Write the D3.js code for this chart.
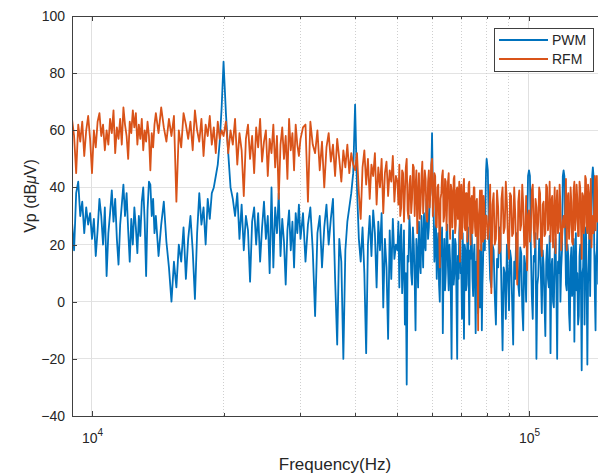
<!DOCTYPE html>
<html>
<head>
<meta charset="utf-8">
<script src="https://cdn.jsdelivr.net/npm/d3@7"></script>
<style>
  body { margin: 0; background: #fff; }
  svg { display: block; font-family: "Liberation Sans", Arial, sans-serif; }
</style>
</head>
<body>
<div id="chart"></div>
<script>
// frequency bins (kHz), shared by both traces
const freqKHz = [
  9.0, 9.1, 9.2, 9.3, 9.4, 9.5, 9.6, 9.7, 9.8, 9.9,
  10.0, 10.1, 10.2, 10.3, 10.4, 10.5, 10.6, 10.7, 10.8, 10.9,
  11.0, 11.1, 11.2, 11.3, 11.4, 11.5, 11.6, 11.7, 11.8, 11.9,
  12.0, 12.1, 12.2, 12.3, 12.4, 12.5, 12.6, 12.7, 12.8, 12.9,
  13.0, 13.1, 13.2, 13.3, 13.4, 13.5, 13.6, 13.7, 13.8, 13.9,
  14.0, 14.2, 14.4, 14.6, 14.8, 15.0, 15.2, 15.4, 15.6, 15.8,
  16.0, 16.2, 16.4, 16.6, 16.8, 17.0, 17.2, 17.4, 17.6, 17.8,
  18.0, 18.2, 18.4, 18.6, 18.8, 19.0, 19.2, 19.4, 19.6, 19.8,
  20, 20.25, 20.5, 20.75, 21, 21.25, 21.5, 21.75, 22, 22.25,
  22.5, 22.75, 23, 23.25, 23.5, 23.75, 24, 24.25, 24.5, 24.75,
  25, 25.25, 25.5, 25.75, 26, 26.25, 26.5, 26.75, 27, 27.25,
  27.5, 27.75, 28, 28.25, 28.5, 28.75, 29, 29.25, 29.5, 29.75,
  30, 30.4, 30.8, 31.2, 31.6, 32, 32.4, 32.8, 33.2, 33.6,
  34, 34.4, 34.8, 35.2, 35.6, 36, 36.4, 36.8, 37.2, 37.6,
  38, 38.4, 38.8, 39.2, 39.6,
  40, 40.4, 40.8, 41.2, 41.6, 42, 42.4, 42.8, 43.2, 43.6,
  44, 44.4, 44.8, 45.2, 45.6, 46, 46.4, 46.8, 47.2, 47.6,
  48, 48.4, 48.8, 49.2, 49.6,
  50, 50.25, 50.5, 50.75, 51, 51.25, 51.5, 51.75, 52, 52.25,
  52.5, 52.75, 53, 53.25, 53.5, 53.75, 54, 54.25, 54.5, 54.75,
  55, 55.25, 55.5, 55.75, 56, 56.25, 56.5, 56.75, 57, 57.25,
  57.5, 57.75, 58, 58.25, 58.5, 58.75, 59, 59.25, 59.5, 59.75,
  60, 60.25, 60.5, 60.75, 61, 61.25, 61.5, 61.75, 62, 62.25,
  62.5, 62.75, 63, 63.25, 63.5, 63.75, 64, 64.25, 64.5, 64.75,
  65, 65.25, 65.5, 65.75, 66, 66.25, 66.5, 66.75, 67, 67.25,
  67.5, 67.75, 68, 68.25, 68.5, 68.75, 69, 69.25, 69.5, 69.75,
  70, 70.25, 70.5, 70.75, 71, 71.25, 71.5, 71.75, 72, 72.25,
  72.5, 72.75, 73, 73.25, 73.5, 73.75, 74, 74.25, 74.5, 74.75,
  75, 75.25, 75.5, 75.75, 76, 76.25, 76.5, 76.75, 77, 77.25,
  77.5, 77.75, 78, 78.25, 78.5, 78.75, 79, 79.25, 79.5, 79.75,
  80, 80.5, 81, 81.5, 82, 82.5, 83, 83.5, 84, 84.5,
  85, 85.5, 86, 86.5, 87, 87.5, 88, 88.5, 89, 89.5,
  90, 90.5, 91, 91.5, 92, 92.5, 93, 93.5, 94, 94.5,
  95, 95.5, 96, 96.5, 97, 97.5, 98, 98.5, 99, 99.5,
  100, 100.5, 101, 101.5, 102, 102.5, 103, 103.5, 104, 104.5,
  105, 105.5, 106, 106.5, 107, 107.5, 108, 108.5, 109, 109.5,
  110, 110.5, 111, 111.5, 112, 112.5, 113, 113.5, 114, 114.5,
  115, 115.5, 116, 116.5, 117, 117.5, 118, 118.5, 119, 119.5,
  120, 120.5, 121, 121.5, 122, 122.5, 123, 123.5, 124, 124.5,
  125, 125.5, 126, 126.5, 127, 127.5, 128, 128.5, 129, 129.5,
  130, 130.5, 131, 131.5, 132, 132.5, 133, 133.5, 134, 134.5,
  135, 135.5, 136, 136.5, 137, 137.5, 138, 138.5, 139, 139.5,
  140, 140.5, 141, 141.5, 142, 142.5, 143, 143.5, 144
];

// Vp in dBuV
const pwmValues = [
  28, 18, 38, 42, 30, 35, 24, 33, 27, 31,
  22, 29, 16, 25, 36, 30, 20, 33, 9, 24,
  31, 39, 28, 36, 22, 13, 27, 34, 41, 30,
  38, 25, 14, 29, 20, 33, 26, 17, 30, 23,
  35, 40, 28, 9, 32, 42, 41, 30, 36, 24,
  30, 16, 27, 35, 21, 12, 0, 14, 5, 20,
  14, 26, 8, 22, 30, 18, 1, 24, 38, 27,
  33, 20, 36, 29, 38, 40, 44, 48, 56, 68,
  84, 66, 52, 40, 36, 30, 38, 22, 34, 18,
  30, 25, 7, 28, 33, 20, 31, 14, 26, 35,
  22, 30, 10, 40, 12, 33, 24, 38, 16, 29,
  21, 6, 25, 32, 18, 28, 12, 31, 24, 34,
  22, 31, 14, 27, 33, 18, -5, 24, 30, 12,
  26, 34, 20, 29, 36, 8, -15, 22, 14, -20,
  18, 28, 33, 38, 45,
  69, 40, 22, 14, 26, 10, -18, 20, 30, 16,
  32, 24, 5, 28, 18, 31, -2, 22, 12, -13,
  25, 8, 29, 15, 20,
  18, 28, 5, 22, 27, 3, 12, 25, -8, 10,
  -29, 16, 14, 30, 24, 10, 6, 26, 20, 8,
  -10, 22, 16, 5, 28, 14, 10, 30, 22, 12,
  31, 20, 18, 36, 34, 22, 26, 35, 38, 44,
  59, 40, 32, 14, 20, 28, 8, 18, 24, 6,
  0, 20, 16, 26, -11, 12, 22, 4, 10, 24,
  27, 12, 4, 20, 14, 2, -20, 18, 25, 6,
  10, 22, 20, 0, -20, 16, 8, 24, 28, 10,
  12, -6, 24, 14, -13, 20, 18, 4, 6, 22,
  26, 10, -8, 18, 15, 28, 22, 8, 2, 16,
  20, 6, -11, 14, 10, 24, -4, 8, 18, -2,
  4, 20, -10, 6, 14, 26, 30, 18, 34, 46,
  50, 46, 22, 8, 5, 20, 18, 2, -8, 15,
  12, 26, 24, 4, -17, 12, 10, -6, 20, 10,
  -3, 18, 15, 0, -15, 14, 8, 24, 22, 6,
  2, 19, 17, -2, -10, 16, 12, 0, 25, 44,
  46, 44, 18, 2, -6, 16, 14, 24, -20, 6,
  9, 22, 21, 8, -4, 18, 13, 0, -12, 14,
  20, 8, 5, 23, -18, 12, 15, 0, -2, 17,
  22, 6, -20, 14, 10, 24, 0, 12, 18, 44,
  46, 44, 24, 6, 4, 20, 16, -4, -10, 14,
  19, 2, 6, 22, -14, 10, 24, 4, 10, -8,
  -5, 16, 20, 4, -24, 10, 12, 26, -8, 14,
  26, 8, -22, 6, 14, 28, 2, 20, 30, 44,
  47, 44, 20, 2, -10, 16, 18, 30, 6
];

const rfmValues = [
  64, 58, 45, 62, 56, 63, 51, 60, 65, 57,
  45, 60, 54, 63, 66, 58, 62, 53, 60, 55,
  64, 59, 67, 52, 61, 57, 64, 55, 68, 62,
  58, 50, 63, 59, 67, 61, 66, 55, 62, 57,
  64, 53, 60, 56, 63, 58, 46, 59, 54, 62,
  66, 59, 68, 61, 56, 64, 58, 65, 35, 60,
  54, 66, 62, 57, 63, 53, 67, 60, 56, 64,
  51, 62, 58, 65, 55, 61, 52, 63, 57, 60,
  58, 63, 52, 60, 55, 64, 48, 59, 53, 37,
  57, 62, 50, 58, 45, 61, 54, 64, 49, 56,
  60, 44, 57, 52, 62, 47, 58, 36, 55, 61,
  50, 58, 43, 64, 53, 59, 46, 62, 55, 51,
  57, 61, 62, 35, 63, 55, 52, 60, 46, 56,
  40, 54, 59, 49, 55, 44, 57, 50, 42, 53,
  47, 55, 45, 52, 48,
  46, 52, 38, 29, 47, 53, 41, 50, 36, 48,
  44, 52, 34, 47, 40, 50, 31, 45, 49, 37,
  46, 42, 51, 35, 44,
  42, 34, 48, 30, 33, 46, 45, 28, 38, 47,
  50, 32, 29, 41, 44, 31, 36, 48, 47, 30,
  40, 46, 24, 37, 45, 29, 34, 44, 49, 31,
  38, 46, 43, 30, 28, 42, 46, 33, 39, 48,
  50, 30, 35, 45, 44, 27, 26, 40, 41, 29,
  12, 36, 38, 44, 46, 28, 30, 43, 42, 25,
  36, 42, 45, 28, 22, 41, 39, 26, 33, 43,
  44, 24, 27, 39, 40, 29, 35, 42, 14, 37,
  41, 22, 30, 40, 43, 26, 25, 38, 38, 21,
  32, 41, 42, 27, 20, 36, 37, 24, 29, 40,
  40, 26, 23, 35, 36, 19, -10, 30, 33, 39,
  26, 18, 39, 28, 21, 37, 34, 22, 30, 30,
  30, 22, 28, 41, 3, 34, 38, 20, 22, 39,
  33, 17, 18, 36, 40, 24, 26, 42, 35, 21,
  15, 38, 37, 23, 24, 40, 31, 18, 6, 35,
  39, 25, 27, 41, 34, 19, 20, 37, 11, 30,
  32, 21, 25, 39, 41, 26, 19, 36, 33, 22,
  28, 40, 38, 20, 16, 34, 35, 23, 24, 41,
  40, 25, 29, 42, 21, 35, 37, 19, 30, 40,
  17, 33, 39, 24, 26, 41, 34, 18, 22, 28,
  30, 26, 31, 43, 18, 36, 38, 22, 27, 40,
  35, 21, 20, 39, 42, 25, 29, 41, 36, 23,
  23, 42, 40, 27, 15, 38, 37, 24, 28, 44,
  43, 26, 24, 41, 38, 22, 30, 43, 19, 28,
  30, 24, 33, 44, 25, 40, 44, 28, 31
];

const seriesNames = ['PWM', 'RFM'];
const seriesColors = ['#0072BD', '#D95319'];
const yTicks = [-40, -20, 0, 20, 40, 60, 80, 100];
const xMajorTicks = [1e4, 1e5];
const xMinorTicks = [2e4, 3e4, 4e4, 5e4, 6e4, 7e4, 8e4, 9e4];

function createSpectrumChart() {
    const margin = { top: 16, right: 0, bottom: 59, left: 72 };
    const width = 526.2;
    const height = 400;
    const axisColor = '#404040';
    const textColor = '#262626';

    const svg = d3.select('#chart').append('svg')
        .attr('width', 598)
        .attr('height', 475);

    const g = svg.append('g')
        .attr('transform', `translate(${margin.left},${margin.top})`);

    const x = d3.scaleLog().domain([9000, 144000]).range([0, width]);
    const y = d3.scaleLinear().domain([-40, 100]).range([height, 0]);

    // Grid
    g.append('g').selectAll('line')
        .data(yTicks.slice(1, -1))
        .join('line')
        .attr('x1', 0).attr('x2', width)
        .attr('y1', d => y(d)).attr('y2', d => y(d))
        .attr('stroke', '#e3e3e3')
        .attr('shape-rendering', 'crispEdges');

    g.append('g').selectAll('line')
        .data(xMajorTicks)
        .join('line')
        .attr('x1', d => x(d)).attr('x2', d => x(d))
        .attr('y1', 0).attr('y2', height)
        .attr('stroke', '#e0e0e0')
        .attr('shape-rendering', 'crispEdges');

    g.append('g').selectAll('line')
        .data(xMinorTicks)
        .join('line')
        .attr('x1', d => x(d)).attr('x2', d => x(d))
        .attr('y1', 0).attr('y2', height)
        .attr('stroke', '#cfcfcf')
        .attr('stroke-dasharray', '1,2')
        .attr('shape-rendering', 'crispEdges');

    // Traces
    g.append('clipPath').attr('id', 'plot-clip')
        .append('rect').attr('width', width).attr('height', height);

    const line = d3.line()
        .x(d => x(d.f))
        .y(d => y(d.v));

    [pwmValues, rfmValues].forEach((values, k) => {
        const pts = freqKHz
            .map((f, i) => ({ f: f * 1000, v: values[i] }))
            .filter(d => d.v !== undefined);
        g.append('path')
            .datum(pts)
            .attr('clip-path', 'url(#plot-clip)')
            .attr('fill', 'none')
            .attr('stroke', seriesColors[k])
            .attr('stroke-width', 1.8)
            .attr('stroke-linejoin', 'round')
            .attr('d', line);
    });

    // Axes (ticks point inward, MATLAB style)
    const yAxis = g.append('g')
        .call(d3.axisLeft(y).tickValues(yTicks).tickSize(-5).tickPadding(7).tickSizeOuter(0));

    const xAxis = g.append('g')
        .attr('transform', `translate(0,${height})`)
        .call(d3.axisBottom(x).tickValues(xMajorTicks).tickSize(-5).tickSizeOuter(0).tickFormat(''));

    g.append('g')
        .attr('transform', `translate(0,${height})`)
        .call(d3.axisBottom(x).tickValues(xMinorTicks).tickSize(-3).tickSizeOuter(0).tickFormat(''));

    g.append('g')
        .call(d3.axisTop(x).tickValues(xMajorTicks).tickSize(-5).tickSizeOuter(0).tickFormat(''));
    g.append('g')
        .call(d3.axisTop(x).tickValues(xMinorTicks).tickSize(-3).tickSizeOuter(0).tickFormat(''));

    g.selectAll('.domain, .tick line')
        .attr('stroke', axisColor)
        .attr('shape-rendering', 'crispEdges');

    yAxis.selectAll('text')
        .attr('fill', textColor)
        .style('font-size', '14px');

    // 10^n labels
    xAxis.selectAll('.tick').each(function(d) {
        const t = d3.select(this).append('text')
            .attr('y', 27)
            .attr('fill', textColor)
            .attr('text-anchor', 'middle')
            .style('font-size', '14px');
        t.append('tspan').text('10');
        t.append('tspan')
            .attr('dy', -7)
            .style('font-size', '10px')
            .text(Math.round(Math.log10(d)));
    });

    // Box top
    g.append('line')
        .attr('x1', 0).attr('x2', width)
        .attr('y1', 0).attr('y2', 0)
        .attr('stroke', axisColor)
        .attr('shape-rendering', 'crispEdges');

    // Axis labels
    g.append('text')
        .attr('x', 263)
        .attr('y', height + 54)
        .attr('text-anchor', 'middle')
        .attr('fill', textColor)
        .style('font-size', '17px')
        .text('Frequency(Hz)');

    const yLabel = g.append('text')
        .attr('transform', 'rotate(-90)')
        .attr('x', -180)
        .attr('y', -36)
        .attr('text-anchor', 'middle')
        .attr('fill', textColor)
        .style('font-size', '16px');
    yLabel.append('tspan').text('Vp (dB');
    yLabel.append('tspan').style('font-style', 'italic').text('\u03BC');
    yLabel.append('tspan').text('V)');

    // Legend
    const legend = svg.append('g').attr('transform', 'translate(494,28)');
    legend.append('rect')
        .attr('width', 99)
        .attr('height', 43)
        .attr('fill', '#fff')
        .attr('stroke', axisColor)
        .attr('shape-rendering', 'crispEdges');

    seriesNames.forEach((name, k) => {
        const row = legend.append('g').attr('transform', `translate(0,${12 + k * 19})`);
        row.append('line')
            .attr('x1', 5).attr('x2', 54)
            .attr('stroke', seriesColors[k])
            .attr('stroke-width', 2);
        row.append('text')
            .attr('x', 58)
            .attr('y', 5)
            .attr('fill', textColor)
            .style('font-size', '14px')
            .text(name);
    });
}

createSpectrumChart();
</script>
</body>
</html>
